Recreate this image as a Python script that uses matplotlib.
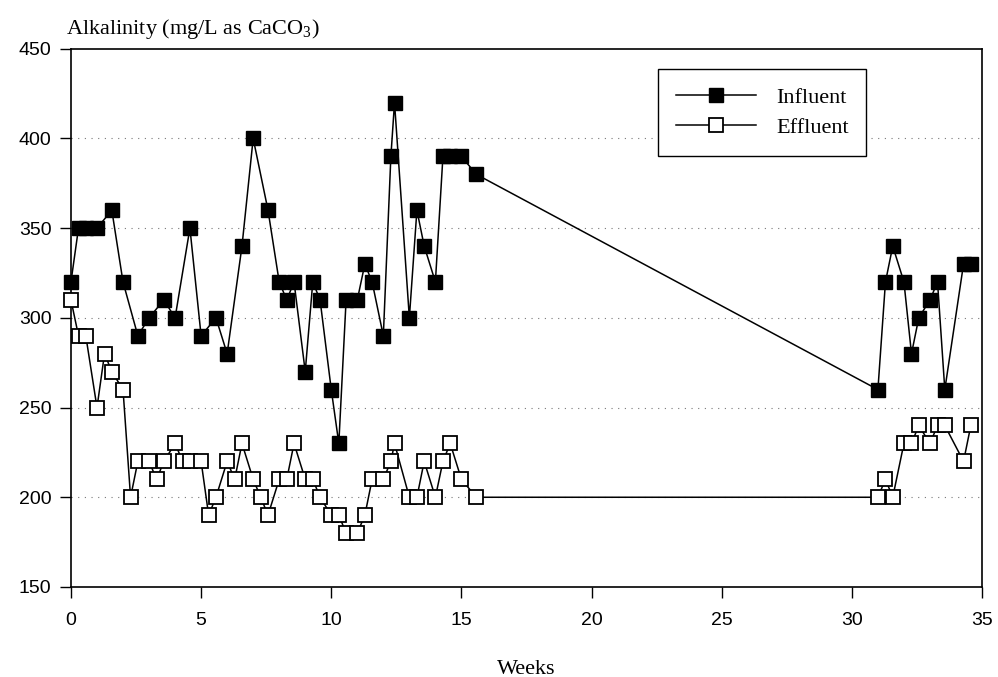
import matplotlib
matplotlib.use("Agg")
import matplotlib.pyplot as plt

plt.rcParams["mathtext.fontset"] = "custom"
plt.rcParams["mathtext.rm"] = "Liberation Serif"

# influent readings (weeks, mg/L as CaCO3)
inf_weeks = [0, 0.29, 0.57, 1.0, 1.57, 2.0, 2.57, 3.0, 3.57, 4.0, 4.57, 5.0, 5.57, 6.0,
             6.57, 7.0, 7.57, 8.0, 8.29, 8.57, 9.0, 9.29, 9.57, 10.0, 10.29, 10.57, 11.0,
             11.29, 11.57, 12.0, 12.29, 12.43, 13.0, 13.29, 13.57, 14.0, 14.29, 14.57,
             15.0, 15.57, 31.0, 31.29, 31.57, 32.0, 32.29, 32.57, 33.0, 33.29, 33.57,
             34.29, 34.57]
inf_alk = [320, 350, 350, 350, 360, 320, 290, 300, 310, 300, 350, 290, 300, 280,
           340, 400, 360, 320, 310, 320, 270, 320, 310, 260, 230, 310, 310,
           330, 320, 290, 390, 420, 300, 360, 340, 320, 390, 390,
           390, 380, 260, 320, 340, 320, 280, 300, 310, 320, 260,
           330, 330]

# effluent readings
eff_weeks = [0, 0.29, 0.57, 1.0, 1.29, 1.57, 2.0, 2.29, 2.57, 3.0, 3.29, 3.57, 4.0, 4.29,
             4.57, 5.0, 5.29, 5.57, 6.0, 6.29, 6.57, 7.0, 7.29, 7.57, 8.0, 8.29, 8.57,
             9.0, 9.29, 9.57, 10.0, 10.29, 10.57, 11.0, 11.29, 11.57, 12.0, 12.29, 12.43,
             13.0, 13.29, 13.57, 14.0, 14.29, 14.57, 15.0, 15.57, 31.0, 31.29, 31.57,
             32.0, 32.29, 32.57, 33.0, 33.29, 33.57, 34.29, 34.57]
eff_alk = [310, 290, 290, 250, 280, 270, 260, 200, 220, 220, 210, 220, 230, 220,
           220, 220, 190, 200, 220, 210, 230, 210, 200, 190, 210, 210, 230,
           210, 210, 200, 190, 190, 180, 180, 190, 210, 210, 220, 230,
           200, 200, 220, 200, 220, 230, 210, 200, 200, 210, 200,
           230, 230, 240, 230, 240, 240, 220, 240]

x_ticks = [0, 5, 10, 15, 20, 25, 30, 35]
y_ticks = [150, 200, 250, 300, 350, 400, 450]

serif = ["Liberation Serif", "DejaVu Serif"]
sans = ["Liberation Sans", "DejaVu Sans"]

fig = plt.figure(figsize=(9.98, 6.77), dpi=100)
ax = fig.add_axes([0.0711, 0.133, 0.9129, 0.795])

ax.plot(inf_weeks, inf_alk, color="black", lw=1.1, marker="s", ms=10.5,
        mfc="black", mec="black", mew=1.0, label="Influent", zorder=3, clip_on=False)
ax.plot(eff_weeks, eff_alk, color="black", lw=1.1, marker="s", ms=10.5,
        mfc="white", mec="black", mew=1.3, label="Effluent", zorder=3, clip_on=False)

ax.set_xlim(0, 35)
ax.set_ylim(150, 450)
ax.set_xticks(x_ticks)
ax.set_yticks(y_ticks)
ax.tick_params(direction="out", length=8, width=1.0, labelsize=14, pad=6)
for lab in ax.get_xticklabels() + ax.get_yticklabels():
    lab.set_family(sans)
ax.tick_params(axis="x", pad=10)

# dotted grid only on the inner ticks
for yv in y_ticks[1:-1]:
    ax.axhline(yv, color="#777777", lw=0.8, ls=(0, (1, 5)), zorder=1)

for sp in ax.spines.values():
    sp.set_linewidth(1.2)

ax.text(-0.005, 1.015, r"Alkalinity (mg/L as CaCO$_\mathrm{3}$)", transform=ax.transAxes,
        ha="left", va="bottom", fontsize=16, family=serif)
ax.set_xlabel("Weeks", fontsize=16, family=serif, labelpad=22)

leg = ax.legend(loc="upper right", bbox_to_anchor=(0.873, 0.962), fancybox=False,
                edgecolor="black", framealpha=1, prop={"family": serif, "size": 16},
                handlelength=3.6, borderpad=0.8, labelspacing=0.45, handletextpad=0.9,
                borderaxespad=0)
leg.get_frame().set_linewidth(1.0)

fig.savefig("out.png", dpi=100)
